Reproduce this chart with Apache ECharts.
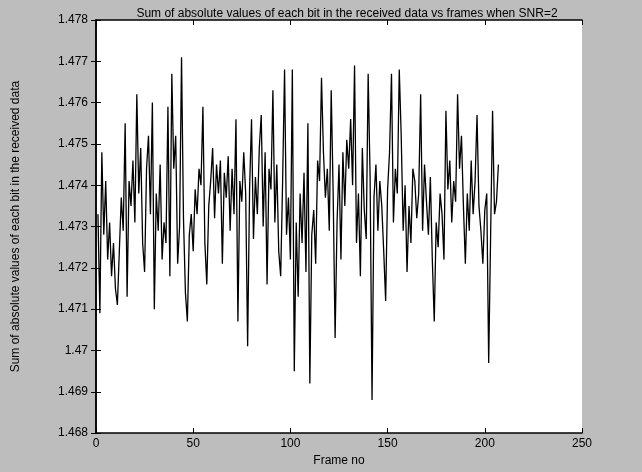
<!DOCTYPE html>
<html>
<head>
<meta charset="utf-8">
<script src="https://cdn.jsdelivr.net/npm/echarts@6/dist/echarts.min.js"></script>
<style>
  html, body { margin: 0; padding: 0; background: #bdbdbd; }
  #chart { width: 642px; height: 472px; }
</style>
</head>
<body>
<div id="chart"></div>
<script>
// sum of absolute values per frame
const sums = [
  1.4733, 1.4709, 1.4748, 1.4728, 1.4741, 1.4722, 1.4731, 1.4718, 1.4726, 1.4715,
  1.4711, 1.4724, 1.4737, 1.4729, 1.4755, 1.4713, 1.4741, 1.4735, 1.4746, 1.4731,
  1.4762, 1.4738, 1.4749, 1.4726, 1.4719, 1.4744, 1.4752, 1.4733, 1.4760, 1.4710,
  1.4738, 1.4729, 1.4745, 1.4722, 1.4731, 1.4726, 1.4759, 1.4718, 1.4767, 1.4744,
  1.4752, 1.4721, 1.4730, 1.4771, 1.4732, 1.4714, 1.4707, 1.4728, 1.4733, 1.4724,
  1.4739, 1.4733, 1.4744, 1.4740, 1.4759, 1.4726, 1.4716, 1.4735, 1.4741, 1.4749,
  1.4732, 1.4745, 1.4738, 1.4746, 1.4721, 1.4743, 1.4737, 1.4747, 1.4729, 1.4744,
  1.4733, 1.4756, 1.4707, 1.4741, 1.4736, 1.4748, 1.4738, 1.4701, 1.4739, 1.4756,
  1.4727, 1.4742, 1.4733, 1.4749, 1.4757, 1.4730, 1.4748, 1.4716, 1.4744, 1.4739,
  1.4763, 1.4731, 1.4745, 1.4724, 1.4718, 1.4741, 1.4768, 1.4728, 1.4737, 1.4722,
  1.4768, 1.4695, 1.4731, 1.4713, 1.4738, 1.4726, 1.4743, 1.4719, 1.4755, 1.4692,
  1.4728, 1.4734, 1.4721, 1.4746, 1.4741, 1.4766, 1.4748, 1.4737, 1.4744, 1.4729,
  1.4763, 1.4738, 1.4703, 1.4731, 1.4745, 1.4722, 1.4748, 1.4735, 1.4751, 1.4744,
  1.4756, 1.4740, 1.4769, 1.4726, 1.4738, 1.4718, 1.4749, 1.4734, 1.4727, 1.4767,
  1.4742, 1.4688, 1.4737, 1.4745, 1.4729, 1.4741, 1.4735, 1.4724, 1.4712, 1.4739,
  1.4748, 1.4767, 1.4731, 1.4744, 1.4738, 1.4768, 1.4752, 1.4729, 1.4740, 1.4719,
  1.4735, 1.4726, 1.4744, 1.4741, 1.4732, 1.4738, 1.4762, 1.4729, 1.4745, 1.4736,
  1.4728, 1.4742, 1.4722, 1.4707, 1.4731, 1.4725, 1.4738, 1.4733, 1.4722, 1.4758,
  1.4739, 1.4746, 1.4731, 1.4741, 1.4736, 1.4762, 1.4744, 1.4752, 1.4735, 1.4721,
  1.4738, 1.4729, 1.4746, 1.4733, 1.4741, 1.4757, 1.4735, 1.4729, 1.4721, 1.4734,
  1.4738, 1.4697, 1.4728, 1.4758, 1.4733, 1.4736, 1.4745
]
const frames = sums.map((v, i) => i + 1)

const xMin = 0, xMax = 250, xStep = 50
const yMin = 1.468, yMax = 1.478, yStep = 0.001

const fontFamily = 'Liberation Sans, Arial, sans-serif'

let chart = echarts.init(document.getElementById('chart'))

const boxAxis = {
  axisLine: { show: true, lineStyle: { color: '#000', width: 1.5 } },
  axisTick: { show: true, inside: true, length: 5, lineStyle: { color: '#000' } },
  splitLine: { show: false }
}

chart.setOption({
  backgroundColor: '#bdbdbd',
  animation: false,
  title: {
    text: 'Sum of absolute values of each bit in the received data vs frames when SNR=2',
    left: 342,
    textAlign: 'center',
    top: 3,
    textStyle: { fontFamily, fontSize: 12, fontWeight: 'normal', color: '#000' }
  },
  grid: {
    left: 96,
    right: 60,
    top: 20,
    bottom: 34,
    show: true,
    backgroundColor: '#fff',
    borderWidth: 0
  },
  xAxis: [{
    type: 'value',
    min: xMin, max: xMax, interval: xStep,
    name: 'Frame no',
    nameLocation: 'middle',
    nameGap: 19,
    nameTextStyle: { fontFamily, fontSize: 12, color: '#000' },
    axisLabel: { fontFamily, fontSize: 12, color: '#000', margin: 5 },
    ...boxAxis
  }, {
    type: 'value', position: 'top',
    min: xMin, max: xMax, interval: xStep,
    axisLabel: { show: false },
    ...boxAxis
  }],
  yAxis: [{
    type: 'value',
    min: yMin, max: yMax, interval: yStep,
    name: 'Sum of absolute values of each bit in the received data',
    nameLocation: 'middle',
    nameGap: 74,
    nameTextStyle: { fontFamily, fontSize: 12, color: '#000' },
    axisLabel: {
      fontFamily, fontSize: 12, color: '#000', margin: 8,
      formatter: v => String(parseFloat(v.toFixed(3)))
    },
    ...boxAxis
  }, {
    type: 'value', position: 'right',
    min: yMin, max: yMax, interval: yStep,
    axisLabel: { show: false },
    ...boxAxis
  }],
  series: [{
    type: 'line',
    data: frames.map((f, i) => [f, sums[i]]),
    showSymbol: false,
    lineStyle: { color: '#000', width: 1.3 },
    silent: true
  }]
})
</script>
</body>
</html>
